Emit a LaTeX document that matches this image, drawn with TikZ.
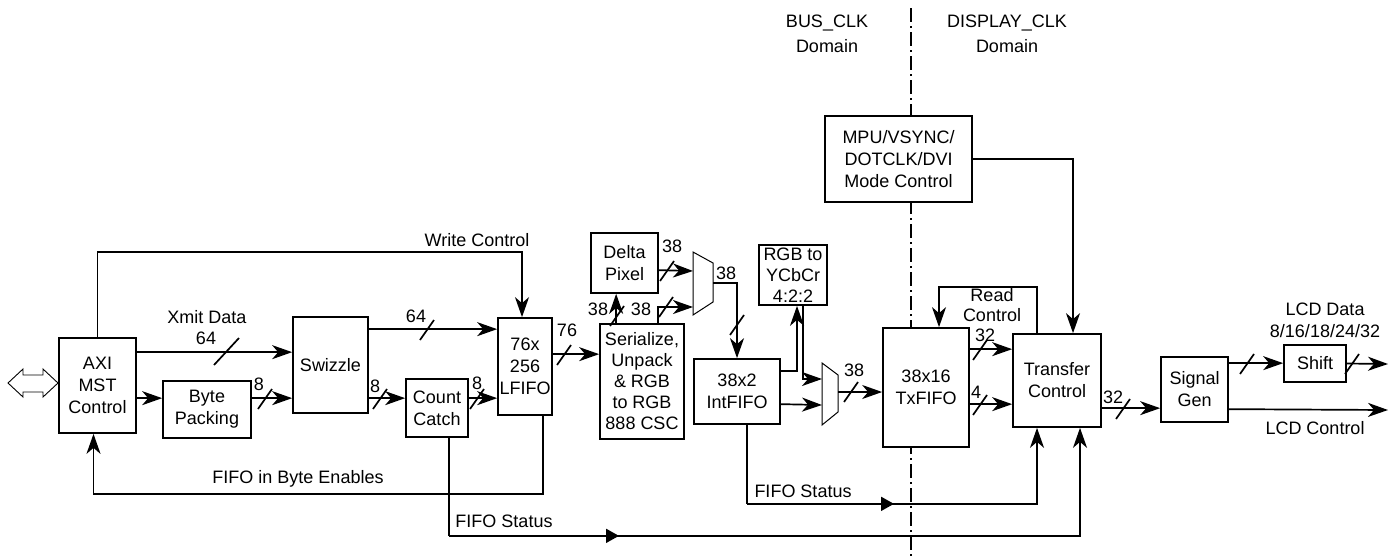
\documentclass[tikz,border=0pt]{standalone}
\usepackage{fontspec}
\setmainfont{Liberation Sans}
\usetikzlibrary{arrows.meta,calc}

\tikzset{
  blk/.style={draw, fill=white, line width=1.7pt, align=center, inner sep=1pt, font=\fontsize{18}{22}\selectfont},
  lbl/.style={font=\fontsize{18}{22}\selectfont, inner sep=0pt, align=center},
  wire/.style={line width=1.7pt},
  muxbox/.style={draw, fill=white, line width=1pt},
  >={Stealth[length=20pt,width=14pt,inset=6pt]}
}
% bus width mark
\newcommand{\busmark}[1]{\draw[wire] (#1) ++(-7,10) -- ++(14,-20);}

\begin{document}
\begin{tikzpicture}[x=1pt,y=-1pt]
\useasboundingbox[fill=white] (0,0) rectangle (1396,557);

% clock domain border
\draw[line width=1.4pt, dash pattern=on 14pt off 4pt on 2pt off 4pt] (911,8) -- (911,557);
\node[lbl] (busdom) at (827,34) {BUS\_CLK\\[3pt]Domain};
\node[lbl] (dispdom) at (1007,34) {DISPLAY\_CLK\\[3pt]Domain};

% host bus
\draw[line width=0.9pt] (8,383) -- (23,369) -- (23,375) -- (43,375) -- (43,369) -- (58,383)
  -- (43,397) -- (43,392) -- (23,392) -- (23,397) -- cycle;

% blocks
\node[blk, minimum width=77pt, minimum height=95pt] (axi) at (97.5,385.5) {AXI\\MST\\Control};
\node[blk, minimum width=88pt, minimum height=57pt] (byte) at (207,409.5) {Byte\\Packing};
\node[blk, minimum width=75pt, minimum height=96pt] (swz) at (330.5,365) {Swizzle};
\node[blk, minimum width=62pt, minimum height=58pt] (cnt) at (437,408) {Count\\Catch};
\node[blk, minimum width=54pt, minimum height=97pt] (lfifo) at (525,366.5) {76x\\256\\LFIFO};
\node[blk, minimum width=67pt, minimum height=60pt] (delta) at (624.5,263) {Delta\\Pixel};
\node[blk, minimum width=84pt, minimum height=115pt, font=\fontsize{18}{21}\selectfont] (ser) at (642,381.5) {Serialize,\\Unpack\\\& RGB\\to RGB\\888 CSC};
\node[blk, minimum width=86pt, minimum height=65pt] (intf) at (737,391.5) {38x2\\IntFIFO};
\node[blk, minimum width=68pt, minimum height=60pt, inner sep=0pt, font=\fontsize{18}{21}\selectfont] (ycc) at (793,275) {RGB to\\YCbCr\\4:2:2};
\node[blk, minimum width=86pt, minimum height=119pt] (txf) at (926,387.5) {38x16\\TxFIFO};
\node[blk, minimum width=147pt, minimum height=86pt] (mpu) at (898.5,159) {MPU/VSYNC/\\DOTCLK/DVI\\Mode Control};
\node[blk, minimum width=88pt, minimum height=93pt] (xfer) at (1057,380.5) {Transfer\\Control};
\node[blk, minimum width=67pt, minimum height=65pt] (sig) at (1194.5,389.5) {Signal\\Gen};
\node[blk, minimum width=62pt, minimum height=37pt] (shift) at (1315,363.5) {Shift};

% muxes
\draw[muxbox] (693,252) -- (713,263) -- (713,302) -- (693,315) -- cycle;
\coordinate (m1a) at (693,271);
\coordinate (m1b) at (693,307);
\coordinate (m1o) at (713,283);
\draw[muxbox] (822,363) -- (838,375) -- (838,412) -- (822,425) -- cycle;
\coordinate (m2a) at (822,379);
\coordinate (m2b) at (822,405);
\coordinate (m2o) at (838,392);

% write side
\draw[wire,->] ($(axi.north east)+(0,15)$) coordinate (xm) -- (xm -| swz.west);
\node[lbl] (xmitlbl) at (207,317) {Xmit Data};
\node[lbl] (xmitw) at (206,338) {64};
\draw[wire] (214,365) -- (239,338);
\draw[wire,->] ($(axi.north east)+(0,61)$) coordinate (ab) -- (ab -| byte.west);
\draw[wire,->] ($(byte.north east)+(0,18)$) coordinate (bs) -- (bs -| swz.west);
\busmark{265,399}
\node[lbl] (bsw) at (259,384) {8};
\draw[wire,->] ($(swz.north east)+(0,82)$) coordinate (sc) -- (sc -| cnt.west);
\busmark{380,399}
\node[lbl] (scw) at (375,386) {8};
\draw[wire,->] ($(cnt.north east)+(0,20)$) coordinate (cl) -- (cl -| lfifo.west);
\busmark{477,399}
\node[lbl] (clw) at (477,383) {8};
\draw[wire,->] ($(swz.north east)+(0,13)$) coordinate (sl) -- (sl -| lfifo.west);
\busmark{427,330}
\node[lbl] (slw) at (416,316) {64};
\draw[wire,->] (axi.north) -- ++(0,-85) -| ($(lfifo.north)+(-3,0)$);
\node[lbl] (wrlbl) at (477,240) {Write Control};
\draw[wire,->] ($(lfifo.south east)+(-10,0)$) -- ++(0,78) -| ($(axi.south)+(-4,0)$);
\node[lbl] (belbl) at (298,479) {FIFO in Byte Enables};

% pixel path
\draw[wire,->] ($(lfifo.north east)+(0,37)$) coordinate (ls) -- (ls -| ser.west);
\busmark{564,355}
\node[lbl] (lsw) at (567,330) {76};
\draw[wire,->] ($(ser.north west)+(17,0)$) coordinate (sd) -- (sd |- delta.south);
\busmark{617,316}
\node[lbl] (sdw) at (598,309) {38};
\draw[wire,->] ($(ser.north east)+(-27,0)$) |- (m1b);
\busmark{666,307}
\node[lbl] (smw) at (641,309) {38};
\draw[wire,->] ($(delta.north east)+(0,38)$) coordinate (dm) -- (m1a);
\busmark{667,271}
\node[lbl] (dmw) at (672,246) {38};
\draw[wire,->] (m1o) -| (intf.north);
\busmark{737,325}
\node[lbl] (miw) at (726,273) {38};
\draw[wire,->] ($(intf.north east)+(0,13)$) -| ($(ycc.south)+(4,0)$);
\draw[wire,->] ($(ycc.south)+(10,0)$) |- (m2a);
\draw[wire,->] ($(intf.north east)+(0,46)$) -- (m2b);
\draw[wire,->] (m2o) -- (m2o -| txf.west);
\busmark{851,392}
\node[lbl] (mtw) at (854,370) {38};

% display side
\draw[wire,->] ($(txf.north east)+(0,22)$) coordinate (tx1) -- (tx1 -| xfer.west);
\busmark{980,350}
\node[lbl] (tx1w) at (985,335) {32};
\draw[wire,->] ($(txf.north east)+(0,77)$) coordinate (tx2) -- (tx2 -| xfer.west);
\busmark{980,405}
\node[lbl] (tx2w) at (976,392) {4};
\draw[wire,->] ($(xfer.north west)+(25,0)$) -- ++(0,-46) -| ($(txf.north)+(13,0)$);
\node[lbl, font=\fontsize{18}{20}\selectfont] (rdlbl) at (992,305) {Read\\Control};
\draw[wire,->] (mpu.east) -| ($(xfer.north)+(16,0)$);
\draw[wire,->] ($(xfer.north east)+(0,75)$) coordinate (xs) -- (xs -| sig.west);
\busmark{1123,409}
\node[lbl] (xsw) at (1113,397) {32};
\draw[wire,->] ($(sig.north east)+(0,7)$) coordinate (ss) -- (ss -| shift.west);
\busmark{1247,364}
\coordinate (lcdd) at (1388,364);
\draw[wire,->] (shift.east) -- (lcdd);
\busmark{1352,364}
\node[lbl] (lcddlbl) at (1325,320.5) {LCD Data\\8/16/18/24/32};
\coordinate (lcdc) at (1388,410);
\draw[wire,->] ($(sig.north east)+(0,53)$) -- (lcdc);
\node[lbl] (lcdclbl) at (1315,428) {LCD Control};

% status lines
\draw[wire] ($(intf.south)+(10,0)$) -- ++(0,79) coordinate (fs2);
\draw[wire,->] (fs2) -| ($(xfer.south)+(-20,0)$);
\draw[wire,-{Triangle[length=13pt,width=14pt]}] (fs2) -- ++(147,0);
\node[lbl] (fs2lbl) at (803,491) {FIFO Status};
\draw[wire] ($(cnt.south)+(12,0)$) -- ++(0,98) coordinate (fs1);
\draw[wire,->] (fs1) -| ($(xfer.south)+(23,0)$);
\draw[wire,-{Triangle[length=13pt,width=14pt]}] (fs1) -- ++(170,0);
\node[lbl] (fs1lbl) at (504,521) {FIFO Status};
\end{tikzpicture}
\end{document}
